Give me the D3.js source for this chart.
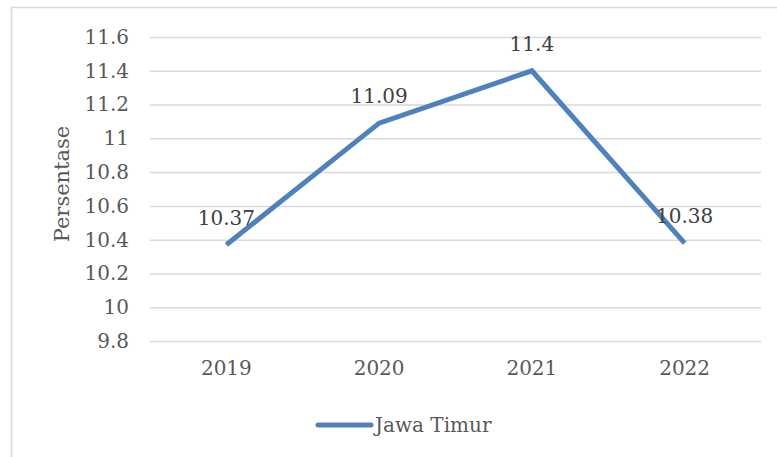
<!DOCTYPE html>
<html>
<head>
<meta charset="utf-8">
<script src="https://cdn.jsdelivr.net/npm/d3@7"></script>
<style>
  body { margin: 0; background: #fff; }
  text { font-family: "DejaVu Serif", serif; }
</style>
</head>
<body>
<svg id="chart" width="777" height="457"></svg>
<script>
// data
var years = ["2019", "2020", "2021", "2022"];
var values = [10.37, 11.09, 11.4, 10.38];
var yTicks = [9.8, 10, 10.2, 10.4, 10.6, 10.8, 11, 11.2, 11.4, 11.6];
var seriesName = "Jawa Timur";

var svg = d3.select("#chart"),
    margin = {top: 37, left: 150, right: 16, bottom: 116},
    width = +svg.attr("width") - margin.left - margin.right,
    height = +svg.attr("height") - margin.top - margin.bottom;

// chart border (cut off on right and bottom like the source)
svg.append("rect")
    .attr("x", 11.5).attr("y", 7.5)
    .attr("width", 800).attr("height", 500)
    .attr("fill", "none")
    .attr("stroke", "#d9d9d9")
    .attr("stroke-width", 1.5);

var g = svg.append("g")
    .attr("transform", "translate(" + margin.left + "," + margin.top + ")");

var x = d3.scaleBand().domain(years).range([0, width]);
var y = d3.scaleLinear().domain([9.8, 11.6]).range([height, 0]);

// gridlines + y labels
var yAxis = g.append("g")
    .call(d3.axisLeft(y).tickValues(yTicks).tickSize(-width).tickPadding(21)
      .tickFormat(function(d) { return d3.format("~g")(d); }));
yAxis.select(".domain").remove();
yAxis.selectAll("line").attr("stroke", "#d9d9d9").attr("stroke-width", 1.5);
yAxis.selectAll("text")
    .attr("fill", "#595959")
    .style("font-size", "20px")
    .style("font-family", "'DejaVu Serif', serif");

// x labels
var xAxis = g.append("g")
    .attr("transform", "translate(0," + height + ")")
    .call(d3.axisBottom(x).tickSize(0).tickPadding(20));
xAxis.select(".domain").remove();
xAxis.selectAll("text")
    .attr("fill", "#595959")
    .style("font-size", "20px")
    .style("font-family", "'DejaVu Serif', serif");

// y title
svg.append("text")
    .attr("transform", "translate(69," + (margin.top + height / 2 - 5) + ") rotate(-90)")
    .attr("text-anchor", "middle")
    .attr("fill", "#595959")
    .style("font-size", "21px")
    .text("Persentase");

// line
var line = d3.line()
    .x(function(d, i) { return x(years[i]) + x.bandwidth() / 2; })
    .y(function(d) { return y(d); });

g.append("path")
    .datum(values)
    .attr("d", line)
    .attr("fill", "none")
    .attr("stroke", "#4f81bd")
    .attr("stroke-width", 5)
    .attr("stroke-linejoin", "miter");

// data labels
g.selectAll(".lbl")
    .data(values)
    .enter().append("text")
      .attr("class", "lbl")
      .attr("x", function(d, i) { return x(years[i]) + x.bandwidth() / 2; })
      .attr("y", function(d) { return y(d) - 20; })
      .attr("text-anchor", "middle")
      .attr("fill", "#404040")
      .style("font-size", "20px")
      .text(function(d) { return d; });

// legend
var lg = svg.append("g").attr("transform", "translate(318,425)");
lg.append("line")
    .attr("x1", 0).attr("x2", 53)
    .attr("stroke", "#4f81bd")
    .attr("stroke-width", 5)
    .attr("stroke-linecap", "round");
lg.append("text")
    .attr("x", 57).attr("y", 7)
    .attr("fill", "#595959")
    .style("font-size", "20px")
    .text(seriesName);
</script>
</body>
</html>
